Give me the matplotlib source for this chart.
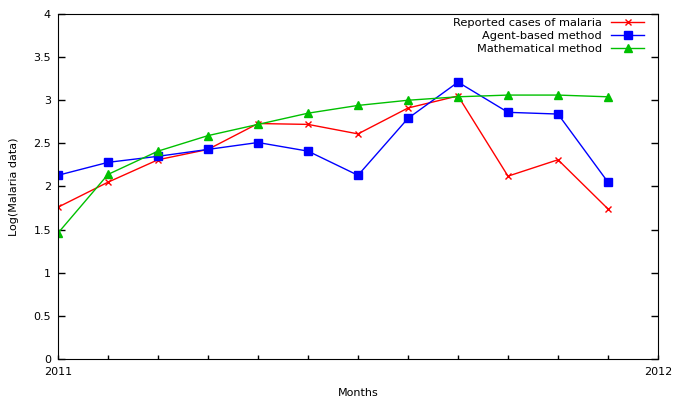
import numpy as np
import matplotlib.pyplot as plt

# months of 2011 (0 = Jan)
months = np.arange(12)
reported = [1.76, 2.05, 2.31, 2.43, 2.73, 2.72, 2.61, 2.91, 3.05, 2.12, 2.31, 1.74]
agent = [2.13, 2.28, 2.35, 2.43, 2.51, 2.41, 2.13, 2.79, 3.21, 2.86, 2.84, 2.05]
mathematical = [1.46, 2.14, 2.41, 2.59, 2.72, 2.85, 2.94, 3.00, 3.04, 3.06, 3.06, 3.04]

plt.rcParams['font.family'] = ['DejaVu Sans']
plt.rcParams['font.size'] = 8

fig = plt.figure(figsize=(6.8, 4), dpi=100)
ax = fig.add_axes([58 / 680, 41 / 400, 600 / 680, 345 / 400])

ax.plot(months, reported, color='#ff0000', lw=1, marker='x', ms=4.5, mew=1,
        label='Reported cases of malaria')
ax.plot(months, agent, color='#0000ff', lw=1, marker='s', ms=5.5,
        label='Agent-based method')
ax.plot(months, mathematical, color='#00c000', lw=1, marker='^', ms=5.5,
        label='Mathematical method')

ax.set_xlim(0, 12)
ax.set_ylim(0, 4)
ax.set_xticks(np.arange(13))
ax.set_xticklabels(['2011'] + [''] * 11 + ['2012'])
ax.set_yticks(np.arange(0, 4.01, 0.5))
ax.set_yticklabels(['0', '0.5', '1', '1.5', '2', '2.5', '3', '3.5', '4'])
ax.tick_params(direction='in', width=1, right=True, top=False)
ax.tick_params(axis='x', length=3, pad=6)
ax.tick_params(axis='y', length=5, pad=5)

ax.set_xlabel('Months', labelpad=8)
ax.set_ylabel('Log(Malaria data)', labelpad=10)

leg = ax.legend(loc='upper right', bbox_to_anchor=(0.99, 1.012), frameon=False,
                markerfirst=False, handlelength=2.9, borderaxespad=0.3,
                labelspacing=0.25, handletextpad=0.8, fontsize=8.2)
for t in leg.get_texts():
    t.set_ha('right')

fig.savefig('out.png', dpi=100)
